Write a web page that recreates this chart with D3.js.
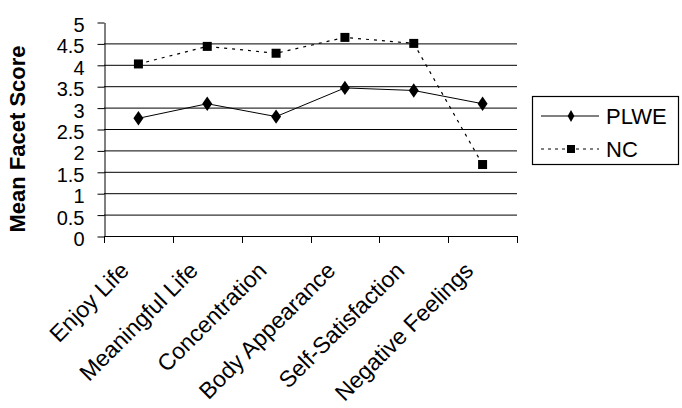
<!DOCTYPE html>
<html>
<head>
<meta charset="utf-8">
<script src="https://cdn.jsdelivr.net/npm/d3@7"></script>
<style>
  body { margin: 0; background: #fff; }
  svg { display: block; font-family: Arial, "Liberation Sans", sans-serif; }
</style>
</head>
<body>
<div id="chart"></div>
<script>
// facet categories
const categories = ["Enjoy Life", "Meaningful Life", "Concentration", "Body Appearance", "Self-Satisfaction", "Negative Feelings"];
// mean facet scores
const plweValues = [2.75, 3.09, 2.79, 3.46, 3.40, 3.09];
const ncValues = [4.02, 4.43, 4.27, 4.64, 4.50, 1.67];
const yTicks = [0, 0.5, 1, 1.5, 2, 2.5, 3, 3.5, 4, 4.5, 5];

const width = 682, height = 408;
const margin = { left: 104, right: 165, top: 22, bottom: 172 };

const svg = d3.select("#chart").append("svg")
    .attr("width", width)
    .attr("height", height);

const x = d3.scaleBand()
    .domain(categories)
    .range([margin.left, width - margin.right]);

const y = d3.scaleLinear()
    .domain([0, 5])
    .range([height - margin.bottom, margin.top]);

// gridlines (none at the top value)
svg.append("g")
    .selectAll("line")
    .data(yTicks.filter(t => t > 0 && t < 5))
    .join("line")
    .attr("x1", margin.left)
    .attr("x2", width - margin.right)
    .attr("y1", d => y(d) + 0.5)
    .attr("y2", d => y(d) + 0.5)
    .attr("stroke", "#000")
    .attr("stroke-width", 1);

// y axis
const yAxis = svg.append("g")
    .attr("transform", `translate(${margin.left + 0.5},0.5)`)
    .call(d3.axisLeft(y).tickValues(yTicks).tickFormat(d3.format("")).tickSize(7).tickSizeOuter(0).tickPadding(13));
yAxis.select(".domain").attr("stroke", "#000");
yAxis.selectAll(".tick line").attr("stroke", "#000");
yAxis.selectAll("text")
    .attr("font-size", "20px")
    .attr("font-family", "Arial, 'Liberation Sans', sans-serif")
    .attr("fill", "#000")
    .attr("dy", "0.45em");

// x axis with ticks between categories
const bounds = categories.map(c => x(c)).concat([x.range()[1]]);
const xg = svg.append("g");
xg.append("line")
    .attr("x1", margin.left)
    .attr("x2", width - margin.right + 1)
    .attr("y1", y(0) + 0.5)
    .attr("y2", y(0) + 0.5)
    .attr("stroke", "#000");
xg.selectAll(".xtick")
    .data(bounds)
    .join("line")
    .attr("class", "xtick")
    .attr("x1", d => Math.round(d) + 0.5)
    .attr("x2", d => Math.round(d) + 0.5)
    .attr("y1", y(0))
    .attr("y2", y(0) + 7)
    .attr("stroke", "#000");
xg.selectAll(".xlabel")
    .data(categories)
    .join("text")
    .attr("class", "xlabel")
    .attr("transform", d => `translate(${x(d) + x.bandwidth() / 2 - 8},${y(0) + 36}) rotate(-45)`)
    .attr("text-anchor", "end")
    .attr("font-size", "23px")
    .attr("fill", "#000")
    .text(d => d);

// y title
svg.append("text")
    .attr("transform", `translate(25,${(margin.top + y(0)) / 2 + 10}) rotate(-90)`)
    .attr("text-anchor", "middle")
    .attr("font-size", "22px")
    .attr("font-weight", "bold")
    .attr("fill", "#000")
    .text("Mean Facet Score");

const cx = c => x(c) + x.bandwidth() / 2;
const line = d3.line()
    .x(d => cx(d.cat))
    .y(d => y(d.v));

const plwe = categories.map((c, i) => ({ cat: c, v: plweValues[i] }));
const nc = categories.map((c, i) => ({ cat: c, v: ncValues[i] }));

svg.append("path")
    .datum(plwe)
    .attr("d", line)
    .attr("fill", "none")
    .attr("stroke", "#000")
    .attr("stroke-width", 1);

svg.append("path")
    .datum(nc)
    .attr("d", line)
    .attr("fill", "none")
    .attr("stroke", "#000")
    .attr("stroke-width", 1.2)
    .attr("stroke-dasharray", "3,5");

const diamond = d3.symbol().type(d3.symbolDiamond).size(60);
svg.append("g")
    .selectAll("path")
    .data(plwe)
    .join("path")
    .attr("transform", d => `translate(${cx(d.cat)},${y(d.v)}) scale(1.2,1)`)
    .attr("d", diamond)
    .attr("fill", "#000");

svg.append("g")
    .selectAll("rect")
    .data(nc)
    .join("rect")
    .attr("x", d => cx(d.cat) - 4.5)
    .attr("y", d => y(d.v) - 4.5)
    .attr("width", 9)
    .attr("height", 9)
    .attr("fill", "#000");

// legend
const legend = svg.append("g");
legend.append("rect")
    .attr("x", 532.5)
    .attr("y", 96.5)
    .attr("width", 146)
    .attr("height", 68)
    .attr("fill", "#fff")
    .attr("stroke", "#000")
    .attr("stroke-width", 1.2);

const legendItems = [
  { name: "PLWE", dash: null, marker: "diamond" },
  { name: "NC", dash: "3,4", marker: "square" }
];
legendItems.forEach((item, i) => {
  const ly = 116 + i * 33;
  legend.append("line")
      .attr("x1", 541).attr("x2", 599)
      .attr("y1", ly).attr("y2", ly)
      .attr("stroke", "#000")
      .attr("stroke-dasharray", item.dash);
  if (item.marker === "diamond") {
    legend.append("path")
        .attr("transform", `translate(571,${ly})`)
        .attr("d", d3.symbol().type(d3.symbolDiamond).size(40))
        .attr("fill", "#000");
  } else {
    legend.append("rect")
        .attr("x", 567).attr("y", ly - 4)
        .attr("width", 8).attr("height", 8)
        .attr("fill", "#000");
  }
  legend.append("text")
      .attr("x", 606)
      .attr("y", ly + 8)
      .attr("font-size", "22px")
      .attr("fill", "#000")
      .text(item.name);
});
</script>
</body>
</html>
